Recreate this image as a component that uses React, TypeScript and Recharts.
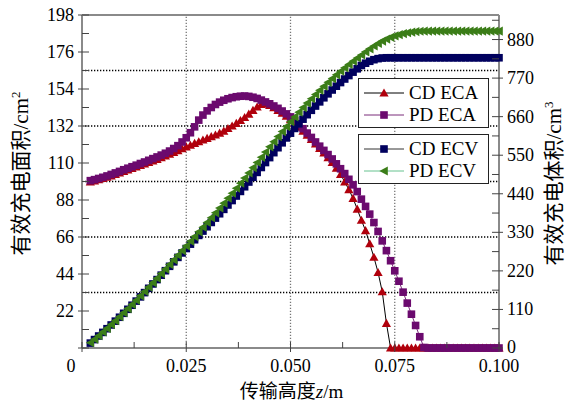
import { LineChart, Line, XAxis, YAxis, ReferenceLine } from 'recharts'

// transport height, mm (plotted as metres)
const heightMm = [
  2, 3, 4, 5, 6, 7, 8, 9, 10, 11, 12, 13, 14, 15, 16, 17, 18, 19, 20, 21,
  22, 23, 24, 25, 26, 27, 28, 29, 30, 31, 32, 33, 34, 35, 36, 37, 38, 39, 40, 41,
  42, 43, 44, 45, 46, 47, 48, 49, 50, 51, 52, 53, 54, 55, 56, 57, 58, 59, 60, 61,
  62, 63, 64, 65, 66, 67, 68, 69, 70, 71, 72, 73, 74, 75, 76, 77, 78, 79, 80, 81,
  82, 83, 84, 85, 86, 87, 88, 89, 90, 91, 92, 93, 94, 95, 96, 97, 98, 99, 100
]

// effective charging area, cm2 (left axis)
const cdEca = [
  98.8, 99.4, 100.1, 100.8, 101.6, 102.4, 103.2, 104.1, 105, 105.9,
  106.8, 107.7, 108.6, 109.5, 110.4, 111.3, 112.2, 113.2, 114.2, 115.2,
  116.3, 117.4, 118.5, 119.6, 120.6, 121.7, 122.7, 123.7, 124.7, 125.7,
  126.7, 127.8, 129, 130.5, 132, 133.6, 135.3, 137.1, 139.1, 141.3,
  143.3, 144.9, 145.3, 144.3, 142.9, 141.3, 139.6, 137.8, 135.8, 133.6,
  131.3, 128.9, 126.5, 124, 121.4, 118.7, 116, 113.2, 110.3, 107,
  103.2, 98.8, 94.2, 89, 82.6, 76, 69.8, 62, 54, 44.9,
  33.5, 14.7, 0, 0, 0, 0, 0, 0, 0, 0,
  0, 0, 0, 0, 0, 0, 0, 0, 0, 0,
  0, 0, 0, 0, 0, 0, 0, 0, 0
]
const pdEca = [
  99.5, 100.1, 100.8, 101.5, 102.3, 103.2, 104.1, 105, 106, 106.9,
  107.8, 108.7, 109.7, 110.6, 111.6, 112.6, 113.6, 114.7, 115.8, 117.1,
  118.6, 120.3, 122.5, 125, 128, 131.5, 135.5, 138.5, 141, 143,
  144.8, 146.2, 147.3, 148.2, 148.9, 149.4, 149.7, 149.8, 149.6, 149.1,
  148.4, 147.4, 146.3, 145.2, 143.9, 142.5, 140.9, 139.2, 137.4, 135.2,
  132.9, 130.4, 127.8, 125.2, 122.5, 120, 117.5, 115, 112.4, 109.5,
  106.6, 103.7, 100.3, 97, 93, 88.5, 84.2, 79.6, 74.6, 69.3,
  63.7, 57.9, 51.9, 45.9, 39.7, 33.2, 26.7, 20.1, 13.4, 6.7,
  0.3, 0, 0, 0, 0, 0, 0, 0, 0, 0,
  0, 0, 0, 0, 0, 0, 0, 0, 0
]

// effective charging volume, cm3 (right axis)
const cdEcv = [
  14, 24, 34.2, 44.5, 55, 65.7, 76.6, 87.7, 99, 110.4,
  122, 133.8, 145.8, 158, 170.3, 182.7, 195.2, 207.8, 220.5, 233.1,
  245.8, 258.5, 271.2, 283.8, 296.3, 308.8, 321.2, 333.6, 345.9, 358.2,
  370.6, 383, 395.5, 408, 420.7, 433.6, 446.7, 460, 473.5, 487.2,
  501, 515, 529.1, 543.2, 557.3, 571.4, 585.4, 599.3, 612.9, 626.4,
  639.7, 652.8, 665.6, 678.1, 690.3, 702.2, 713.8, 725.1, 736.1, 746.9,
  757.3, 767.4, 777.3, 787, 796.5, 806, 812.5, 818, 822.5, 825.5,
  827.3, 828, 828, 828, 828, 828, 828, 828, 828, 828,
  828, 828, 828, 828, 828, 828, 828, 828, 828, 828,
  828, 828, 828, 828, 828, 828, 828, 828, 828
]
const pdEcv = [
  15, 25, 35.2, 45.6, 56.2, 67, 78, 89.3, 100.8, 112.5,
  124.4, 136.5, 148.8, 161.2, 173.8, 186.5, 199.3, 212.2, 225.2, 238.3,
  251.5, 264.7, 278, 291.3, 304.6, 318, 331.4, 344.8, 358.3, 371.9,
  385.6, 399.4, 413.3, 427.3, 441.5, 455.8, 470.3, 484.9, 499.6, 514.4,
  529.2, 544.1, 559, 573.8, 588.5, 603.1, 617.5, 631.7, 645.6, 659.3,
  672.7, 685.8, 698.6, 711.1, 723.3, 735.1, 746.6, 757.8, 768.7, 779.3,
  789.5, 799.4, 809, 818.3, 827.3, 835.9, 845, 853.5, 861.5, 868.8,
  875.5, 881.3, 886.3, 890.5, 894, 897, 899.4, 901.3, 902.7, 903.6,
  904, 904, 904, 904, 904, 904, 904, 904, 904, 904,
  904, 904, 904, 904, 904, 904, 904, 904, 904
]

const xTicks = [0, 0.0125, 0.025, 0.0375, 0.05, 0.0625, 0.075, 0.0875, 0.1]
const leftTicks = [0, 11, 22, 33, 44, 55, 66, 77, 88, 99, 110, 121, 132, 143, 154, 165, 176, 187, 198]
const rightTicks = [0, 55, 110, 165, 220, 275, 330, 385, 440, 495, 550, 605, 660, 715, 770, 825, 880, 935]
const gridLeft = [33, 66, 99, 132, 165]
const gridX = [0.025, 0.05, 0.075]

const data = heightMm.map((mm, i) => ({
  z: mm / 1000,
  cdEca: cdEca[i],
  pdEca: pdEca[i],
  cdEcv: cdEcv[i],
  pdEcv: pdEcv[i]
}))

const SERIF = 'Liberation Serif'
const CJK = 'Noto Sans CJK SC'
const FRAME = '#8a8a8a'
const TICK = '#444'

const colors = {
  cdEca: '#b0000c',
  pdEca: '#6b0a6e',
  cdEcv: '#00005e',
  pdEcv: '#3b7d18'
}

type Kind = 'triUp' | 'square' | 'triLeft'

const marker = (kind: Kind, cx: number, cy: number, fill: string, key?: string) => {
  if (kind === 'triUp') {
    return (
      <polygon
        key={key}
        points={`${cx},${cy - 4.5} ${cx + 4.6},${cy + 3.6} ${cx - 4.6},${cy + 3.6}`}
        fill={fill}
      />
    )
  }
  if (kind === 'triLeft') {
    return (
      <polygon
        key={key}
        points={`${cx - 4.6},${cy} ${cx + 3.8},${cy - 4.6} ${cx + 3.8},${cy + 4.6}`}
        fill={fill}
      />
    )
  }
  return <rect key={key} x={cx - 3.8} y={cy - 3.8} width={7.6} height={7.6} fill={fill} />
}

const dotFor = (name: string, kind: Kind, fill: string) => (p: any) =>
  marker(kind, p.cx, p.cy, fill, `${name}-${p.index}`)

const XTick = (props: any) => {
  const { x, y, payload } = props
  const v = payload.value
  const major = Math.round(v * 1000) % 25 === 0
  return (
    <g>
      <line x1={x} x2={x} y1={y} y2={y - 6} stroke={TICK} />
      {major && <line x1={x} x2={x} y1={y} y2={y + 4} stroke={TICK} />}
      {major && (
        <text x={v === 0 ? x - 11 : x} y={y + 24} textAnchor="middle" fontFamily={SERIF} fontSize={18} fill="#000">
          {v === 0 ? '0' : v.toFixed(3)}
        </text>
      )}
    </g>
  )
}

const LeftTick = (props: any) => {
  const { x, y, payload } = props
  const v = payload.value
  const major = v % 22 === 0
  return (
    <g>
      <line x1={x} x2={x + 7} y1={y} y2={y} stroke={TICK} />
      {major && <line x1={x} x2={x - 4} y1={y} y2={y} stroke={TICK} />}
      {major && v > 0 && (
        <text x={x - 8} y={y + 6} textAnchor="end" fontFamily={SERIF} fontSize={18} fill="#000">
          {v}
        </text>
      )}
    </g>
  )
}

const RightTick = (props: any) => {
  const { x, y, payload } = props
  const v = payload.value
  const major = v % 110 === 0
  return (
    <g>
      <line x1={x} x2={x - 7} y1={y} y2={y} stroke={TICK} />
      {major && <line x1={x} x2={x + 4} y1={y} y2={y} stroke={TICK} />}
      {major && (
        <text x={x + 8} y={y + (v === 0 ? 5 : 6)} textAnchor="start" fontFamily={SERIF} fontSize={18} fill="#000">
          {v}
        </text>
      )}
    </g>
  )
}

const LeftTitle = (props: any) => {
  const vb = props.viewBox
  const cx = vb.x + 28
  const cy = vb.y + vb.height / 2 - 8
  return (
    <text transform={`translate(${cx},${cy}) rotate(-90)`} textAnchor="middle" fontFamily={SERIF} fontSize={21} fill="#000">
      <tspan fontFamily={CJK}>有效充电面积</tspan>/cm<tspan dy={-8} fontSize={13}>2</tspan>
    </text>
  )
}

const RightTitle = (props: any) => {
  const vb = props.viewBox
  const cx = vb.x + 62
  const cy = vb.y + vb.height / 2 + 2
  return (
    <text transform={`translate(${cx},${cy}) rotate(-90)`} textAnchor="middle" fontFamily={SERIF} fontSize={21} fill="#000">
      <tspan fontFamily={CJK}>有效充电体积</tspan>/cm<tspan dy={-8} fontSize={13}>3</tspan>
    </text>
  )
}

const BottomTitle = (props: any) => {
  const vb = props.viewBox
  return (
    <text x={vb.x + vb.width / 2 + 1} y={vb.y + 50} textAnchor="middle" fontFamily={SERIF} fontSize={19} fill="#000">
      <tspan fontFamily={CJK}>传输高度</tspan>
      <tspan fontStyle="italic">z</tspan>/m
    </text>
  )
}

type Entry = { label: string; kind: Kind; fill: string; line: string }

const legendTop: Entry[] = [
  { label: 'CD ECA', kind: 'triUp', fill: colors.cdEca, line: '#000' },
  { label: 'PD ECA', kind: 'square', fill: colors.pdEca, line: '#7b2d7b' }
]
const legendBottom: Entry[] = [
  { label: 'CD ECV', kind: 'square', fill: colors.cdEcv, line: '#333' },
  { label: 'PD ECV', kind: 'triLeft', fill: colors.pdEcv, line: '#66c28f' }
]

const LegendBox = ({ entries, left, top }: { entries: Entry[]; left: number; top: number }) => (
  <div
    style={{
      position: 'absolute',
      left,
      top,
      width: 129,
      height: 48,
      border: '1px solid #222',
      background: '#fff'
    }}
  >
    {entries.map((e, i) => (
      <div
        key={e.label}
        style={{
          position: 'absolute',
          left: 5,
          top: 3 + i * 22,
          height: 22,
          display: 'flex',
          alignItems: 'center'
        }}
      >
        <svg width={45} height={14} style={{ display: 'block' }}>
          <line x1={0} x2={40} y1={7} y2={7} stroke={e.line} strokeWidth={1} />
          {marker(e.kind, 20, 7, e.fill)}
        </svg>
        <span style={{ fontFamily: SERIF, fontSize: 19, lineHeight: '22px', color: '#000' }}>{e.label}</span>
      </div>
    ))}
  </div>
)

export default function App() {
  return (
    <div style={{ position: 'absolute', left: 0, top: 0, width: 569, height: 403, background: '#fff' }}>
      <LineChart
        width={569}
        height={403}
        data={data}
        margin={{ top: 15, right: 0, bottom: 0, left: 0 }}
        style={{ fontFamily: SERIF }}
      >
        <XAxis
          dataKey="z"
          type="number"
          domain={[0, 0.1]}
          ticks={xTicks}
          interval={0}
          height={55}
          tickSize={0}
          tickMargin={0}
          tickLine={false}
          axisLine={{ stroke: FRAME, strokeWidth: 2 }}
          tick={XTick}
          label={BottomTitle}
        />
        <YAxis
          yAxisId="left"
          domain={[0, 198]}
          ticks={leftTicks}
          interval={0}
          width={82}
          tickSize={0}
          tickMargin={0}
          tickLine={false}
          axisLine={{ stroke: FRAME, strokeWidth: 2 }}
          tick={LeftTick}
          label={LeftTitle}
        />
        <YAxis
          yAxisId="right"
          orientation="right"
          domain={[0, 950]}
          ticks={rightTicks}
          interval={0}
          width={70}
          tickSize={0}
          tickMargin={0}
          tickLine={false}
          axisLine={{ stroke: FRAME, strokeWidth: 2 }}
          tick={RightTick}
          label={RightTitle}
        />
        {gridLeft.map((v) => (
          <ReferenceLine
            key={`gy${v}`}
            yAxisId="left"
            y={v}
            stroke="#000"
            strokeWidth={1.3}
            strokeDasharray="1.3 1.7"
          />
        ))}
        {gridX.map((v) => (
          <ReferenceLine
            key={`gx${v}`}
            yAxisId="left"
            x={v}
            stroke="#777"
            strokeWidth={1.3}
            strokeDasharray="1.3 1.7"
          />
        ))}
        <ReferenceLine yAxisId="left" y={198} stroke={FRAME} strokeWidth={2} />
        <Line
          yAxisId="left"
          dataKey="cdEca"
          stroke="#000"
          strokeWidth={1}
          dot={dotFor('cdEca', 'triUp', colors.cdEca)}
          activeDot={false}
          isAnimationActive={false}
        />
        <Line
          yAxisId="left"
          dataKey="pdEca"
          stroke="#7b2d7b"
          strokeWidth={1}
          dot={dotFor('pdEca', 'square', colors.pdEca)}
          activeDot={false}
          isAnimationActive={false}
        />
        <Line
          yAxisId="right"
          dataKey="cdEcv"
          stroke="#333"
          strokeWidth={1}
          dot={dotFor('cdEcv', 'square', colors.cdEcv)}
          activeDot={false}
          isAnimationActive={false}
        />
        <Line
          yAxisId="right"
          dataKey="pdEcv"
          stroke="#66c28f"
          strokeWidth={1}
          dot={dotFor('pdEcv', 'triLeft', colors.pdEcv)}
          activeDot={false}
          isAnimationActive={false}
        />
      </LineChart>
      <LegendBox entries={legendTop} left={358} top={78} />
      <LegendBox entries={legendBottom} left={358} top={134} />
    </div>
  )
}
